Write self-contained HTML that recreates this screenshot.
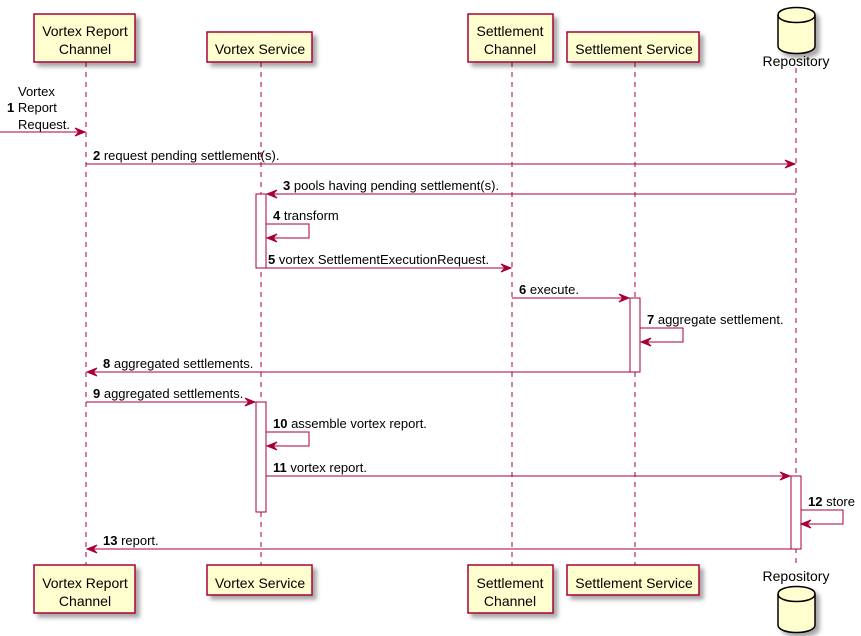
<!DOCTYPE html>
<html><head><meta charset="utf-8"><style>
html,body{margin:0;padding:0;background:#fff;}
svg{display:block;font-family:"Liberation Sans",sans-serif;}
</style></head><body>
<svg width="861" height="636" viewBox="0 0 861 636" xmlns="http://www.w3.org/2000/svg">
<defs>
<filter id="sh" x="-20%" y="-20%" width="150%" height="150%"><feOffset dx="4" dy="4" in="SourceAlpha"/><feGaussianBlur stdDeviation="2"/><feComponentTransfer><feFuncA type="linear" slope="0.35"/></feComponentTransfer><feMerge><feMergeNode/><feMergeNode in="SourceGraphic"/></feMerge></filter>
</defs>
<g stroke="#A80036" stroke-dasharray="5,5" stroke-width="1">
<line x1="86" y1="62" x2="86" y2="565"/>
<line x1="261" y1="62" x2="261" y2="565"/>
<line x1="512" y1="62" x2="512" y2="565"/>
<line x1="635" y1="62" x2="635" y2="565"/>
<line x1="796" y1="68" x2="796" y2="565"/>
</g>
<g fill="#FEFECE" stroke="#A80036" stroke-width="1.5" filter="url(#sh)">
<rect x="34" y="14" width="101" height="48"/>
<rect x="207" y="32" width="105" height="30"/>
<rect x="468" y="14" width="85" height="48"/>
<rect x="567" y="32" width="132" height="30"/>
<rect x="34" y="565" width="101" height="48"/>
<rect x="207" y="565" width="105" height="30"/>
<rect x="468" y="565" width="85" height="48"/>
<rect x="567" y="565" width="132" height="30"/>
</g>
<g fill="#FEFECE" stroke="#000" stroke-width="1.5" filter="url(#sh)">
<path d="M778,15 C778,5 815,5 815,15 L815,46 C815,56 778,56 778,46 Z"/>
<path d="M778,15 C778,25 815,25 815,15" fill="none"/>
<path d="M778,594 C778,584 815,584 815,594 L815,625 C815,635 778,635 778,625 Z"/>
<path d="M778,594 C778,604 815,604 815,594" fill="none"/>
</g>
<g font-size="14" fill="#000" text-anchor="middle">
<text x="85" y="36">Vortex Report</text><text x="85" y="54">Channel</text>
<text x="260" y="54">Vortex Service</text>
<text x="510" y="36">Settlement</text><text x="510" y="54">Channel</text>
<text x="634" y="54">Settlement Service</text>
<text x="796" y="66">Repository</text>
<text x="85" y="588">Vortex Report</text><text x="85" y="606">Channel</text>
<text x="260" y="588">Vortex Service</text>
<text x="510" y="588">Settlement</text><text x="510" y="606">Channel</text>
<text x="634" y="588">Settlement Service</text>
<text x="796" y="581">Repository</text>
</g>
<g fill="#fff" stroke="#A80036" stroke-width="1">
<rect x="256" y="194" width="10" height="74"/>
<rect x="630" y="298" width="10" height="74"/>
<rect x="256" y="402" width="10" height="110"/>
<rect x="791" y="476" width="10" height="73"/>
</g>
<g stroke="#A80036" stroke-width="1" fill="none">
<line x1="0" y1="132" x2="85" y2="132"/>
<line x1="86" y1="164" x2="795" y2="164"/>
<line x1="267" y1="194" x2="796" y2="194"/>
<polyline points="266,224 309,224 309,238 267,238"/>
<line x1="266" y1="268" x2="511" y2="268"/>
<line x1="512" y1="298" x2="629" y2="298"/>
<polyline points="640,328 683,328 683,342 641,342"/>
<line x1="87" y1="372" x2="630" y2="372"/>
<line x1="86" y1="402" x2="255" y2="402"/>
<polyline points="266,432 309,432 309,446 267,446"/>
<line x1="266" y1="476" x2="790" y2="476"/>
<polyline points="801,510 843,510 843,524 801,524"/>
<line x1="87" y1="549" x2="791" y2="549"/>
</g>
<g fill="#A80036" stroke="#A80036">
<polygon points="85,132 75,128 79,132 75,136"/>
<polygon points="795,164 785,160 789,164 785,168"/>
<polygon points="267,194 277,190 273,194 277,198"/>
<polygon points="267,238 277,234 273,238 277,242"/>
<polygon points="511,268 501,264 505,268 501,272"/>
<polygon points="629,298 619,294 623,298 619,302"/>
<polygon points="641,342 651,338 647,342 651,346"/>
<polygon points="87,372 97,368 93,372 97,376"/>
<polygon points="255,402 245,398 249,402 245,406"/>
<polygon points="267,446 277,442 273,446 277,450"/>
<polygon points="790,476 780,472 784,476 780,480"/>
<polygon points="801,524 811,520 807,524 811,528"/>
<polygon points="87,549 97,545 93,549 97,553"/>
</g>
<g font-size="13" fill="#000">
<text x="18" y="96">Vortex</text>
<text x="7" y="112"><tspan font-weight="bold">1</tspan> Report</text>
<text x="18" y="129">Request.</text>
<text x="93" y="160"><tspan font-weight="bold">2</tspan> request pending settlement(s).</text>
<text x="283" y="190"><tspan font-weight="bold">3</tspan> pools having pending settlement(s).</text>
<text x="273" y="220"><tspan font-weight="bold">4</tspan> transform</text>
<text x="268" y="264"><tspan font-weight="bold">5</tspan> vortex SettlementExecutionRequest.</text>
<text x="519" y="294"><tspan font-weight="bold">6</tspan> execute.</text>
<text x="647" y="324"><tspan font-weight="bold">7</tspan> aggregate settlement.</text>
<text x="103" y="368"><tspan font-weight="bold">8</tspan> aggregated settlements.</text>
<text x="93" y="398"><tspan font-weight="bold">9</tspan> aggregated settlements.</text>
<text x="273" y="428"><tspan font-weight="bold">10</tspan> assemble vortex report.</text>
<text x="273" y="472"><tspan font-weight="bold">11</tspan> vortex report.</text>
<text x="808" y="506"><tspan font-weight="bold">12</tspan> store</text>
<text x="103" y="545"><tspan font-weight="bold">13</tspan> report.</text>
</g>
</svg>
</body></html>
